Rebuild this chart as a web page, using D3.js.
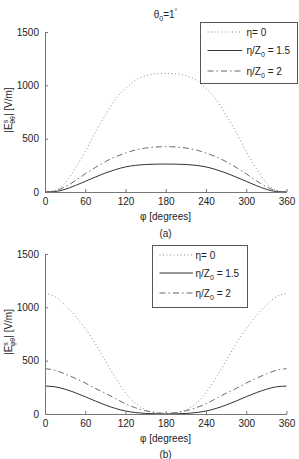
<!DOCTYPE html>
<html>
<head>
<meta charset="utf-8">
<script src="https://cdn.jsdelivr.net/npm/d3@7"></script>
<style>
  body { margin: 0; background: #fff; }
  svg { display: block; font-family: "Liberation Sans", Arial, sans-serif; }
</style>
</head>
<body>
<div id="chart"></div>
<script>
// phi samples, degrees
const phi = [0, 15, 30, 45, 60, 75, 90, 105, 120, 135, 150, 165, 180,
             195, 210, 225, 240, 255, 270, 285, 300, 315, 330, 345, 360]

// panel (a): |E^s_thth| [V/m]
const aEta0 = [0, 15, 85, 220, 380, 560, 720, 870, 970, 1050, 1090, 1108, 1112,
               1108, 1090, 1050, 970, 870, 720, 560, 380, 220, 85, 15, 0]
const aEta15 = [0, 4, 25, 60, 100, 140, 178, 210, 235, 250, 258, 261, 262,
                261, 258, 250, 235, 210, 178, 140, 100, 60, 25, 4, 0]
const aEta2 = [0, 10, 50, 105, 170, 230, 285, 330, 365, 395, 412, 422, 425,
               422, 412, 395, 365, 330, 285, 230, 170, 105, 50, 10, 0]

// panel (b): |E^s_phth| [V/m]
const bEta0 = [1130, 1100, 1020, 920, 800, 660, 500, 340, 200, 100, 40, 10, 0,
               10, 40, 100, 200, 340, 500, 660, 800, 920, 1020, 1100, 1130]
const bEta15 = [262, 255, 232, 200, 162, 122, 84, 52, 28, 13, 5, 2, 0,
                2, 5, 13, 28, 52, 84, 122, 162, 200, 232, 255, 262]
const bEta2 = [425, 410, 375, 335, 290, 240, 195, 145, 95, 58, 30, 14, 5,
               14, 30, 58, 95, 145, 195, 240, 290, 335, 375, 410, 425]

const xTicks = [0, 60, 120, 180, 240, 300, 360]
const yTicks = [0, 500, 1000, 1500]

const styles = [
  { stroke: "#8a8a8a", dash: "1,2.5", width: 1 },
  { stroke: "#333", dash: null, width: 1 },
  { stroke: "#6a6a6a", dash: "6,3,1.5,3", width: 1 }
]

const W = 299, H = 459
const svg = d3.select("#chart").append("svg")
  .attr("width", W).attr("height", H)

function panel(opts) {
  const x = d3.scaleLinear().domain([0, 360]).range([45, 286.5])
  const y = d3.scaleLinear().domain([0, 1500]).range([opts.bottom, opts.bottom - 160])
  const g = svg.append("g")

  const series = [opts.s0, opts.s15, opts.s2]
  const line = d3.line()
    .x((d, i) => x(phi[i]))
    .y(d => y(d))
    .curve(d3.curveMonotoneX)

  series.forEach((s, k) => {
    g.append("path")
      .datum(s)
      .attr("fill", "none")
      .attr("stroke", styles[k].stroke)
      .attr("stroke-width", styles[k].width)
      .attr("stroke-dasharray", styles[k].dash)
      .attr("d", line)
  })

  // axes, ticks inside
  const xAxis = g.append("g")
    .attr("transform", `translate(0,${opts.bottom})`)
    .call(d3.axisBottom(x).tickValues(xTicks).tickFormat(d3.format("d"))
      .tickSizeInner(-3).tickSizeOuter(0).tickPadding(6))
  const yAxis = g.append("g")
    .attr("transform", "translate(45,0)")
    .call(d3.axisLeft(y).tickValues(yTicks).tickFormat(d3.format("d"))
      .tickSizeInner(-3).tickSizeOuter(0).tickPadding(6))
  ;[xAxis, yAxis].forEach(a => {
    a.select(".domain").attr("stroke", "#777")
    a.selectAll(".tick line").attr("stroke", "#777")
    a.selectAll(".tick text").attr("fill", "#222").style("font-size", "10px")
  })

  g.append("text")
    .attr("x", 165.5).attr("y", opts.bottom + 28)
    .attr("text-anchor", "middle")
    .style("font-size", "10px").attr("fill", "#222")
    .text("φ [degrees]")

  g.append("text")
    .attr("x", 165.5).attr("y", opts.bottom + opts.capOffset)
    .attr("text-anchor", "middle")
    .style("font-size", "10px").attr("fill", "#222")
    .text(opts.caption)

  // y label
  const yl = g.append("text")
    .attr("transform", `translate(12,${opts.bottom - 82}) rotate(-90)`)
    .attr("text-anchor", "middle")
    .style("font-size", "10px").attr("fill", "#222")
  yl.append("tspan").text("|E")
  yl.append("tspan").attr("dy", -4).style("font-size", "7px").text("s")
  yl.append("tspan").attr("dx", -4).attr("dy", 7).style("font-size", "7px").text(opts.sub)
  yl.append("tspan").attr("dy", -3).text("| [V/m]")

  // legend
  const L = opts.legend
  g.append("rect")
    .attr("x", L.x).attr("y", L.y).attr("width", L.w).attr("height", L.h)
    .attr("fill", "#fff").attr("stroke", "#555").attr("stroke-width", 1)
  const labels = [["η= 0"], ["η/Z", "0", " = 1.5"], ["η/Z", "0", " = 2"]]
  labels.forEach((lab, k) => {
    const ly = L.y + L.rows[k]
    g.append("line")
      .attr("x1", L.x + L.l1).attr("x2", L.x + L.l2)
      .attr("y1", ly).attr("y2", ly)
      .attr("stroke", styles[k].stroke)
      .attr("stroke-width", styles[k].width)
      .attr("stroke-dasharray", styles[k].dash)
    const t = g.append("text")
      .attr("x", L.x + L.tx).attr("y", ly + 3.5)
      .style("font-size", "10px").attr("fill", "#222")
    t.append("tspan").text(lab[0])
    if (lab.length > 1) {
      t.append("tspan").attr("dy", 3).style("font-size", "7px").text(lab[1])
      t.append("tspan").attr("dy", -3).text(lab[2])
    }
  })
}

// title of (a)
const title = svg.append("text")
  .attr("x", 165.5).attr("y", 18)
  .attr("text-anchor", "middle")
  .style("font-size", "10px").attr("fill", "#222")
title.append("tspan").text("θ")
title.append("tspan").attr("dy", 3).style("font-size", "7px").text("0")
title.append("tspan").attr("dy", -3).text("=1")
title.append("tspan").attr("dy", -4).style("font-size", "7px").text("°")

panel({
  bottom: 192, s0: aEta0, s15: aEta15, s2: aEta2, sub: "θθ",
  caption: "(a)", capOffset: 45,
  legend: { x: 200.5, y: 22.5, w: 97, h: 61, rows: [9.5, 28, 48.5], l1: 7, l2: 41.5, tx: 46 }
})

panel({
  bottom: 414, s0: bEta0, s15: bEta15, s2: bEta2, sub: "φθ",
  caption: "(b)", capOffset: 44,
  legend: { x: 152.5, y: 245.5, w: 95, h: 62, rows: [9.5, 27.5, 47.5], l1: 7, l2: 40.5, tx: 43 }
})
</script>
</body>
</html>
